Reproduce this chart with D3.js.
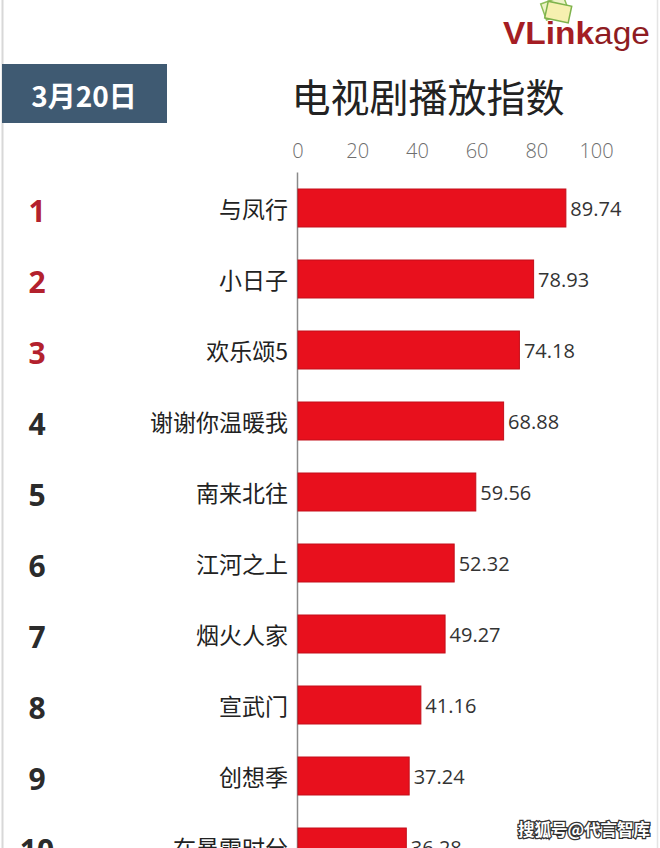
<!DOCTYPE html>
<html>
<head>
<meta charset="utf-8">
<script src="https://cdn.jsdelivr.net/npm/d3@7/dist/d3.min.js"></script>
<style>
  html, body { margin: 0; padding: 0; background: #fff; }
  svg { display: block; }
</style>
</head>
<body>
<svg id="chart" width="660" height="848"></svg>
<script>
const ranks = [1, 2, 3, 4, 5, 6, 7, 8, 9, 10];
const categories = ["与凤行", "小日子", "欢乐颂5", "谢谢你温暖我", "南来北往", "江河之上", "烟火人家", "宣武门", "创想季", "在暴雪时分"];
const values = [89.74, 78.93, 74.18, 68.88, 59.56, 52.32, 49.27, 41.16, 37.24, 36.28];
const tickValues = [0, 20, 40, 60, 80, 100];
const dateLabel = "3月20日";
const titleText = "电视剧播放指数";
const watermark = "搜狐号@代言智库";

const data = categories.map((c, i) => ({ rank: ranks[i], name: c, value: values[i] }));

const svg = d3.select("#chart");
const W = 660, H = 848;
const cjk = "'Noto Sans CJK SC', 'Noto Sans', sans-serif";
const latin = "'Open Sans', 'Noto Sans', sans-serif";

// frame lines
svg.append("line").attr("x1", 2.5).attr("x2", 2.5).attr("y1", 0).attr("y2", H)
  .attr("stroke", "#d8d8d8").attr("stroke-width", 2);
svg.append("line").attr("x1", 657.5).attr("x2", 657.5).attr("y1", 0).attr("y2", H)
  .attr("stroke", "#e4e4e4").attr("stroke-width", 1.5);

// scales
const x = d3.scaleLinear().domain([0, 100]).range([297.5, 596]);
const y = d3.scaleBand().domain(categories).range([172.5, 882.5]).paddingInner(0.465).paddingOuter(0.2325);

// logo icon
const icon = svg.append("g").attr("transform", "translate(556,8)");
icon.append("rect").attr("x", -13).attr("y", -9).attr("width", 24).attr("height", 17)
  .attr("transform", "rotate(-20)").attr("fill", "#eef3c8").attr("stroke", "#8fbf5a").attr("stroke-width", 1.5);
icon.append("rect").attr("x", -9).attr("y", -5).attr("width", 24).attr("height", 17)
  .attr("transform", "rotate(12)").attr("fill", "#f6f0b0").attr("stroke", "#7fb34c").attr("stroke-width", 1.5);

// logo text
const logo = svg.append("text").attr("x", 503).attr("y", 44)
  .attr("textLength", 147).attr("lengthAdjust", "spacingAndGlyphs")
  .style("font-family", "'Liberation Sans', Arial, sans-serif").style("font-size", "31px");
logo.append("tspan").text("VLink").attr("fill", "#a51d24").style("font-weight", 700);
logo.append("tspan").text("age").attr("fill", "#8e1c22").style("font-weight", 400);

// date box
svg.append("rect").attr("x", 2).attr("y", 64).attr("width", 165).attr("height", 59).attr("fill", "#3f5a72");
svg.append("text").attr("x", 84).attr("y", 95).attr("text-anchor", "middle").attr("dominant-baseline", "central")
  .attr("fill", "#fff").style("font-family", cjk).style("font-weight", 700).style("font-size", "28px")
  .text(dateLabel);

// title
svg.append("text").attr("x", 428).attr("y", 95).attr("text-anchor", "middle").attr("dominant-baseline", "central")
  .attr("fill", "#222").style("font-family", cjk).style("font-size", "39px").text(titleText);

// top axis
const axis = svg.append("g").attr("transform", "translate(0,158)")
  .call(d3.axisTop(x).tickValues(tickValues).tickSize(0).tickPadding(0));
axis.select(".domain").remove();
axis.selectAll("text").attr("fill", "#6e6e6e").style("font-family", latin).style("font-size", "20px").style("font-weight", 300);

// vertical baseline
svg.append("line").attr("x1", x(0)).attr("x2", x(0)).attr("y1", y.range()[0]).attr("y2", H)
  .attr("stroke", "#8a8a8a").attr("stroke-width", 1.5);

// bars
svg.append("g").selectAll("rect").data(data).join("rect")
  .attr("x", x(0) + 0.5)
  .attr("y", d => y(d.name))
  .attr("width", d => x(d.value) - x(0))
  .attr("height", y.bandwidth())
  .attr("fill", "#e8101d")
  .attr("stroke", "#c30f1a").attr("stroke-width", 1);

// value labels
svg.append("g").selectAll("text").data(data).join("text")
  .attr("x", d => x(d.value) + 5)
  .attr("y", d => y(d.name) + y.bandwidth() / 2)
  .attr("dominant-baseline", "central")
  .attr("fill", "#333").style("font-family", latin).style("font-size", "20px")
  .text(d => d.value.toFixed(2));

// category labels
svg.append("g").selectAll("text").data(data).join("text")
  .attr("x", 288)
  .attr("y", d => y(d.name) + y.bandwidth() / 2)
  .attr("text-anchor", "end").attr("dominant-baseline", "central")
  .attr("fill", "#222").style("font-family", cjk).style("font-size", "23px")
  .text(d => d.name);

// rank numbers
svg.append("g").selectAll("text").data(data).join("text")
  .attr("x", 37)
  .attr("y", d => y(d.name) + y.bandwidth() / 2 + 2)
  .attr("text-anchor", "middle").attr("dominant-baseline", "central")
  .attr("fill", d => d.rank <= 3 ? "#b3212d" : "#2b2b2b")
  .style("font-family", latin).style("font-weight", 700).style("font-size", "30px")
  .text(d => d.rank);

// watermark
svg.append("text").attr("x", 650).attr("y", 829).attr("text-anchor", "end").attr("dominant-baseline", "central")
  .attr("fill", "#fff").attr("stroke", "#333").attr("stroke-width", 2.5).attr("paint-order", "stroke")
  .style("font-family", cjk).style("font-size", "16.5px").style("font-weight", 700)
  .text(watermark);
</script>
</body>
</html>
